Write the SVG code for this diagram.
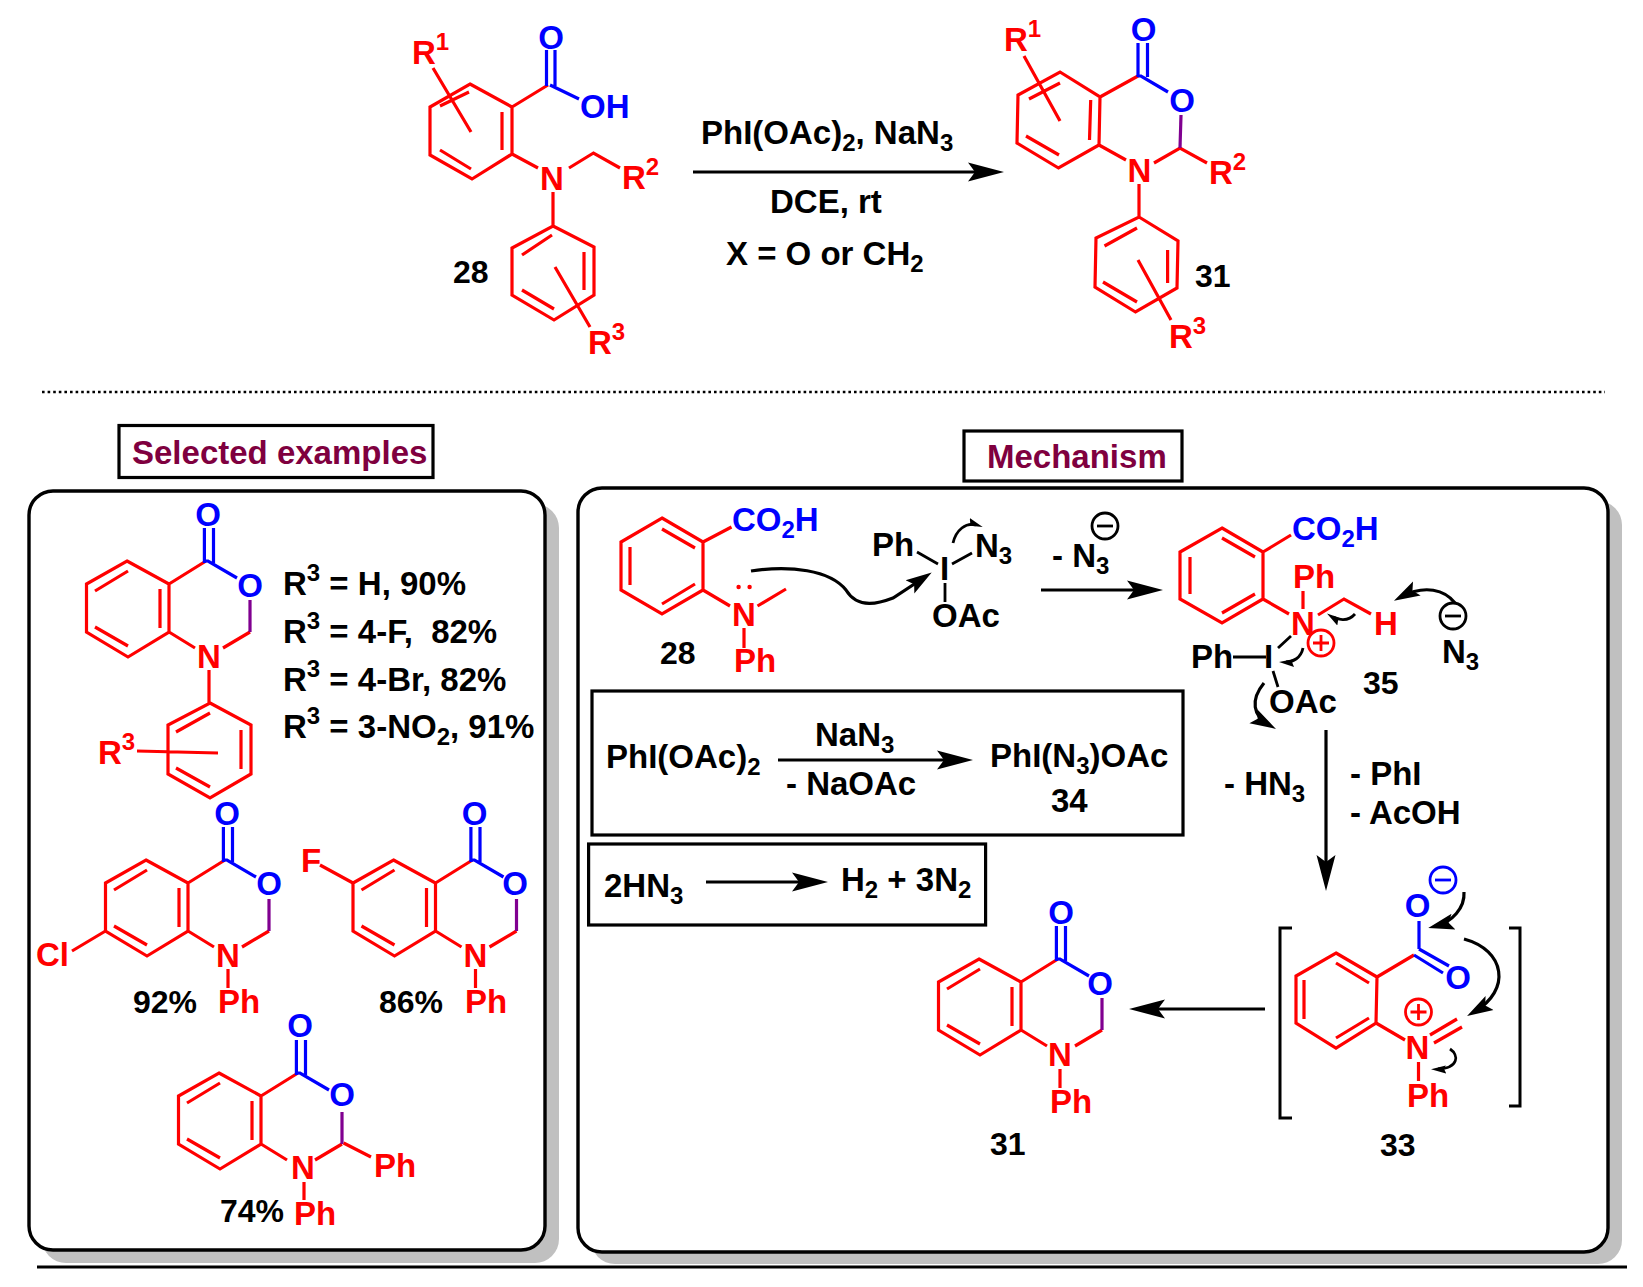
<svg xmlns="http://www.w3.org/2000/svg" xmlns:xlink="http://www.w3.org/1999/xlink" width="1643" height="1287" viewBox="0 0 1643 1287">
<style>
text{font-family:"Liberation Sans",Arial,sans-serif;font-weight:bold;font-size:33px;fill:#000}
.a{fill:#f00}.o{fill:#00f;text-anchor:middle}.n{fill:#f00;text-anchor:middle}.bt{fill:#00f}
.l{font-size:32px}.t{fill:#7f003f}
.s{font-size:24px}
.r,.b,.p,.c,.f,.w{fill:none;stroke-width:3.2}
.r{stroke:#f00}.b{stroke:#00f}.p{stroke:#800090}
.c{stroke:#000;stroke-width:3.2}.f{stroke:#000;stroke-width:3}.w{stroke:#000;stroke-width:2.8}
.pl{fill:none;stroke:#f00;stroke-width:2.8}.mi{fill:none;stroke:#000;stroke-width:2.8}.mb{fill:none;stroke:#00f;stroke-width:2.8}
.sh{fill:#c0c0c0}.panel{fill:#fff;stroke:#000;stroke-width:3.4}
.box{fill:#fff;stroke:#000;stroke-width:3.2}
</style>
<defs>
<marker id="h" markerUnits="userSpaceOnUse" markerWidth="40" markerHeight="22" viewBox="0 -11 40 22" refX="26" refY="0" orient="auto"><path d="M0,-9.5 L36,0 L0,9.5 L7,0 Z"/></marker>
<marker id="hc" markerUnits="userSpaceOnUse" markerWidth="30" markerHeight="20" viewBox="0 -10 30 20" refX="18" refY="0" orient="auto"><path d="M0,-8 L26,0 L0,8 L5,0 Z"/></marker>
<marker id="hs" markerUnits="userSpaceOnUse" markerWidth="18" markerHeight="12" viewBox="0 -6 18 12" refX="8" refY="0" orient="auto"><path d="M0,-5 L15,0 L0,3 L2,0 Z"/></marker>
<g id="core">
<path class="r" d="M127,561 L169,584 L169,632 L128,657 L86.5,632 L86.5,584 Z M95,591 L128,571 M160,589 V628 M95,627 L128,646 M169,584 L206,561 M169,632 L195,648 M223,648 L250,632"/>
<path class="b" d="M204.4,528 V563 M213.5,528 V563 M204.4,561 L208,561 L237,578"/>
<path class="p" d="M250,600 V632"/>
</g>
</defs>
<rect width="1643" height="1287" fill="#fff"/>

<g id="mol-28">
<path class="r" d="M470,84 L512,107 L512,154 L472,179 L430,155 L430,107 Z M440,106 L469,92 M502,112 V150 M440,150 L471,169 M512,107 L548,85 M512,154 L538,168 M569,168 L593.5,153 L620,168 M553,192 V226 M553,226 L594,247 L594,295 L554,320 L512,295 L512,248 Z M522,255 L552,235 M584,252 V290 M522,290 L554,309 M555,267 L590,327 M433,68 L471,132"/>
<path class="b" d="M546.5,50 V86 M555,50 V86 M550,85 L579,99"/>
<text class="o" x="551" y="49">O</text>
<text class="bt" x="580" y="118">OH</text>
<text class="n" x="552" y="190">N</text>
<text class="a" x="412" y="64">R<tspan class="s" dy="-14">1</tspan></text>
<text class="a" x="622" y="189">R<tspan class="s" dy="-14">2</tspan></text>
<text class="a" x="588" y="354">R<tspan class="s" dy="-14">3</tspan></text>
<text class="l" x="453" y="283">28</text>
</g>

<g id="mol-31-top">
<path class="r" d="M1060,72 L1100,97 L1099,145 L1058.5,168 L1017,143 L1018,95 Z M1029,99 L1060,83 M1090.7,100 L1089.5,140 M1026,136 L1059,155 M1100,97 L1138,76 M1099,145 L1126,160 M1154,163 L1180,148 L1207,163 M1139,184 V217 M1139,217 L1178,241 L1177,288 L1135.5,312 L1095,287 L1096,238 Z M1104.5,246 L1137,228 M1167.6,250 V283 M1103,282 L1137,302 M1138,260 L1171,320 M1024,56 L1060,121"/>
<path class="b" d="M1138,43 V77 M1147.5,43 V77 M1138,76 L1141,76 L1168,92"/>
<path class="p" d="M1181,115 L1180,148"/>
<text class="o" x="1143.5" y="41">O</text>
<text class="o" x="1182" y="112">O</text>
<text class="n" x="1139.5" y="182">N</text>
<text class="a" x="1004" y="51">R<tspan class="s" dy="-14">1</tspan></text>
<text class="a" x="1209" y="184">R<tspan class="s" dy="-14">2</tspan></text>
<text class="a" x="1169" y="348">R<tspan class="s" dy="-14">3</tspan></text>
<text class="l" x="1195" y="287">31</text>
</g>

<g id="conditions">
<text x="701" y="144">PhI(OAc)<tspan class="s" dy="7">2</tspan><tspan dy="-7">, NaN</tspan><tspan class="s" dy="7">3</tspan></text>
<text x="770" y="213">DCE, rt</text>
<text x="726" y="265">X = O or CH<tspan class="s" dy="7">2</tspan></text>
</g>

<path id="divider" d="M42,392 H1605" fill="none" stroke="#000" stroke-width="2.6" stroke-dasharray="2.6 3"/>

<g id="label-selected"><rect class="box" x="119" y="425.5" width="314" height="52"/><text class="t" x="132" y="464">Selected examples</text></g>
<g id="label-mechanism"><rect class="box" x="964" y="431" width="218" height="50"/><text class="t" x="987" y="468">Mechanism</text></g>

<g id="panel-examples"><rect class="sh" x="42" y="504" width="517" height="759" rx="24"/><rect class="panel" x="29" y="491" width="516" height="759" rx="24"/></g>
<g id="panel-mechanism"><rect class="sh" x="591" y="501" width="1031" height="763" rx="24"/><rect class="panel" x="578" y="488" width="1030" height="764" rx="24"/></g>
<path id="rule" d="M37,1267 H1627" fill="none" stroke="#000" stroke-width="3"/>

<g id="example-1">
<use href="#core"/>
<path class="r" d="M209,670 V703 M210,703 L251,725 L251,774 L210,798 L168,774 L168,725 Z M176,732 L210,713 M241,730 V769 M176,768 L210,787 M137,751 L218,753"/>
<text class="o" x="208" y="526">O</text><text class="o" x="250" y="597">O</text><text class="n" x="209" y="668">N</text>
<text class="a" x="98" y="764">R<tspan class="s" dy="-14">3</tspan></text>
</g>
<g id="example-1-yields">
<text xml:space="preserve" x="283" y="595">R<tspan class="s" dy="-14">3</tspan><tspan dy="14"> = H, 90%</tspan></text>
<text xml:space="preserve" x="283" y="643">R<tspan class="s" dy="-14">3</tspan><tspan dy="14"> = 4-F,  82%</tspan></text>
<text xml:space="preserve" x="283" y="691">R<tspan class="s" dy="-14">3</tspan><tspan dy="14"> = 4-Br, 82%</tspan></text>
<text xml:space="preserve" x="283" y="738">R<tspan class="s" dy="-14">3</tspan><tspan dy="14"> = 3-NO</tspan><tspan class="s" dy="7">2</tspan><tspan dy="-7">, 91%</tspan></text>
</g>

<g id="example-2">
<use href="#core" transform="translate(19,299)"/>
<path class="r" d="M228,969 V988 M105.5,931 L72,951"/>
<text class="o" x="227" y="825">O</text><text class="o" x="269" y="895">O</text><text class="n" x="228" y="967">N</text>
<text class="a" x="218" y="1013">Ph</text><text class="a" x="36" y="966">Cl</text>
<text class="l" x="133" y="1013">92%</text>
</g>
<g id="example-3">
<use href="#core" transform="translate(266.5,299)"/>
<path class="r" d="M475.5,969 V988 M320,865 L353,883"/>
<text class="o" x="474.5" y="825">O</text><text class="o" x="515" y="895">O</text><text class="n" x="475.5" y="967">N</text>
<text class="a" x="465" y="1013">Ph</text><text class="a" x="301" y="872">F</text>
<text class="l" x="379" y="1013">86%</text>
</g>
<g id="example-4">
<use href="#core" transform="translate(92,512)"/>
<path class="r" d="M304,1182 V1200 M343.6,1143 L371,1157"/>
<text class="o" x="300" y="1037">O</text><text class="o" x="342" y="1106">O</text><text class="n" x="303" y="1179">N</text>
<text class="a" x="294" y="1225">Ph</text><text class="a" x="374" y="1177">Ph</text>
<text class="l" x="220" y="1222">74%</text>
</g>

<g id="mech-28">
<path class="r" d="M662,518 L703,542 L703,590 L662,614 L621,590 L621,542 Z M662,529 L695,548 M630,547 V585 M662,604 L695,584 M703,542 L731.5,527 M703,590 L730,606 M757.5,606 L786,589 M744,628 V648"/>
<circle cx="738.6" cy="587" r="2.2" fill="#f00"/><circle cx="749.6" cy="587" r="2.2" fill="#f00"/>
<text class="bt" x="732" y="531">CO<tspan class="s" dy="7">2</tspan><tspan dy="-7">H</tspan></text>
<text class="n" x="744" y="626">N</text><text class="a" x="734" y="672">Ph</text>
<text class="l" x="660" y="664">28</text>
</g>
<g id="mech-reagent">
<path class="w" d="M917,552 L938,564 M952,564 L972,553 M945,583 V602"/>
<text x="872" y="556">Ph</text>
<text x="940" y="580">I</text>
<text x="975" y="557">N<tspan class="s" dy="7">3</tspan></text>
<text x="932" y="627">OAc</text>
</g>
<g id="mech-loss">
<text x="1052" y="567">- N<tspan class="s" dy="7">3</tspan></text>
<circle class="mi" cx="1105" cy="526" r="13"/><path class="mi" d="M1097,526 H1113"/>
</g>
<g id="mech-35">
<path class="r" d="M1222,528 L1263,552 L1263,599 L1222,623 L1180,599 L1180,552 Z M1222,538 L1255,557 M1190,557 V594 M1222,613 L1255,594 M1263,552 L1291,535 M1263,599 L1289,614 M1318,615 L1344,599 L1371,614 M1303,591 V609"/>
<text class="bt" x="1292" y="540">CO<tspan class="s" dy="7">2</tspan><tspan dy="-7">H</tspan></text>
<text class="a" x="1293" y="588">Ph</text><text class="a" x="1291" y="635">N</text><text class="a" x="1374" y="635">H</text>
<circle class="pl" cx="1321" cy="643" r="13"/><path class="pl" d="M1313,643 H1329 M1321,635 V651"/>
<path class="w" d="M1233,657 H1266 M1278,648 L1291,636 M1273,671 L1278,687"/>
<text x="1191" y="668">Ph</text><text x="1264" y="668">I</text><text x="1269" y="713">OAc</text>
<text class="l" x="1363" y="694">35</text>
<circle class="mi" cx="1453" cy="616" r="13"/><path class="mi" d="M1445,616 H1461"/>
<text x="1442" y="663">N<tspan class="s" dy="7">3</tspan></text>
</g>
<g id="mech-conditions">
<text x="1224" y="795">- HN<tspan class="s" dy="7">3</tspan></text>
<text x="1350" y="785">- PhI</text>
<text x="1350" y="824">- AcOH</text>
</g>
<g id="box-azide">
<rect class="box" x="592" y="691" width="591" height="144"/>
<text x="606" y="768">PhI(OAc)<tspan class="s" dy="7">2</tspan></text>
<text x="815" y="746">NaN<tspan class="s" dy="7">3</tspan></text>
<text x="786" y="795">- NaOAc</text>
<text x="990" y="767">PhI(N<tspan class="s" dy="7">3</tspan><tspan dy="-7">)OAc</tspan></text>
<text x="1051" y="812">34</text>
</g>
<g id="box-hn3">
<rect class="box" x="588.6" y="844" width="397" height="81"/>
<text x="604" y="897">2HN<tspan class="s" dy="7">3</tspan></text>
<text x="841" y="891">H<tspan class="s" dy="7">2</tspan><tspan dy="-7"> + 3N</tspan><tspan class="s" dy="7">2</tspan></text>
</g>
<g id="mech-31">
<use href="#core" transform="translate(852,398)"/>
<path class="r" d="M1060,1069 V1088"/>
<text class="o" x="1061" y="924">O</text><text class="o" x="1100" y="995">O</text><text class="n" x="1060" y="1066">N</text>
<text class="a" x="1050" y="1113">Ph</text>
<text class="l" x="990" y="1155">31</text>
</g>
<g id="mech-33">
<path class="f" d="M1292,928 H1280 V1118 H1292 M1509,928 H1520 V1106 H1509"/>
<path class="r" d="M1336,953 L1377,977 L1376,1023 L1336,1048 L1296,1023 L1296,976 Z M1336,963 L1369,983 M1304,980 V1019 M1336,1038 L1369,1018 M1377,977 L1414,955 M1376,1023 L1405,1040 M1430,1035 L1457,1019 M1434,1043 L1462,1027 M1418.5,1062 V1081"/>
<path class="b" d="M1419,949 V921 M1414,955 L1443,973 M1419,949 L1449,966"/>
<text class="o" x="1417.5" y="917">O</text><text class="o" x="1458" y="989">O</text><text class="n" x="1417.5" y="1059">N</text>
<text class="a" x="1407" y="1107">Ph</text>
<circle class="pl" cx="1418.5" cy="1012" r="13"/><path class="pl" d="M1410.5,1012 H1426.5 M1418.5,1004 V1020"/>
<circle class="mb" cx="1443" cy="880" r="13"/><path class="mb" d="M1435,880 H1451"/>
<text class="l" x="1380" y="1156">33</text>
</g>

<g id="connectors">
<path class="c" d="M693,172 H994" marker-end="url(#h)"/>
<path class="c" d="M1041,590 H1153" marker-end="url(#h)"/>
<path class="c" d="M778,760 H963" marker-end="url(#h)"/>
<path class="c" d="M706,882 H818" marker-end="url(#h)"/>
<path class="c" d="M1326,730 V881" marker-end="url(#h)"/>
<path class="c" d="M1265,1009 H1139" marker-end="url(#h)"/>
<path class="c" d="M751,571 C790,565 830,570 846,590 C858,610 880,603 893,598 L925,577" marker-end="url(#hc)"/>
<path class="w" d="M953,543 C956,530 966,522 976,525" marker-end="url(#hs)"/>
<path class="w" d="M1355,614 C1348,622 1338,620 1333,617" marker-end="url(#hs)"/>
<path class="w" d="M1303,648 C1301,658 1293,662 1286,662" marker-end="url(#hs)"/>
<path class="c" d="M1455,603 C1445,590 1425,584 1401,597" marker-end="url(#hc)"/>
<path class="c" d="M1264,683 C1250,700 1253,716 1269,725" marker-end="url(#hc)"/>
<path class="c" d="M1464,892 C1465,908 1452,922 1436,926" marker-end="url(#hc)"/>
<path class="c" d="M1464,939 C1505,950 1512,990 1474,1012" marker-end="url(#hc)"/>
<path class="w" d="M1450,1049 C1459,1055 1459,1068 1438,1069" marker-end="url(#hs)"/>
</g>
</svg>
